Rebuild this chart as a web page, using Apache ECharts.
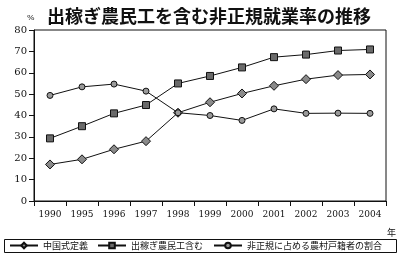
<!DOCTYPE html>
<html><head><meta charset="utf-8">
<script src="https://cdn.jsdelivr.net/npm/echarts@6/dist/echarts.min.js"></script>
<style>html,body{margin:0;padding:0;background:#fff}#c{width:400px;height:259px}</style>
</head><body><div id="c"></div>
<script>
const years = ['1990','1995','1996','1997','1998','1999','2000','2001','2002','2003','2004'];
const chinaDef = [17.1, 19.5, 24.2, 28.0, 41.3, 46.2, 50.3, 53.9, 57.0, 58.9, 59.2];
const withMigrants = [29.3, 35.0, 41.0, 44.9, 55.0, 58.5, 62.5, 67.3, 68.5, 70.4, 70.9];
const ruralShare = [49.4, 53.4, 54.7, 51.4, 41.3, 40.0, 37.7, 43.1, 41.0, 41.1, 41.0];
const yTicks = [0, 10, 20, 30, 40, 50, 60, 70, 80];
const names = ['中国式定義', '出稼ぎ農民工含む', '非正規に占める農村戸籍者の割合'];

const serif = "'DejaVu Serif', 'Liberation Serif', serif";
const jp = "'Noto Sans CJK JP', sans-serif";
const chart = echarts.init(document.getElementById('c'), null, {renderer: 'canvas'});
function mk(name, data, sym, size, fill) {
  return {
    name: name, type: 'line', data: data, symbol: sym, symbolSize: size,
    showAllSymbol: true,
    lineStyle: {color: '#111', width: 1},
    itemStyle: {color: fill, borderColor: '#111', borderWidth: 1},
    emphasis: {disabled: true}
  };
}
function lg(name, left) {
  return {
    left: left, top: 241, data: [name],
    itemWidth: 28, itemHeight: 7, padding: 0, itemGap: 0,
    textStyle: {fontFamily: jp, fontSize: 9, color: '#111'}
  };
}
chart.setOption({
  animation: false,
  backgroundColor: '#fff',
  title: {
    text: '出稼ぎ農民工を含む非正規就業率の推移',
    left: 42, top: 2,
    textStyle: {fontFamily: jp, fontSize: 18, fontWeight: 'bold', color: '#111'}
  },
  graphic: [
    {type: 'text', left: 27, top: 14, style: {text: '%', font: '8px ' + serif, fill: '#111'}},
    {type: 'text', left: 387, top: 228, style: {text: '年', font: '9px ' + jp, fill: '#111'}},
    {type: 'rect', z: 100, shape: {x: 4.5, y: 239.5, width: 392, height: 13}, style: {fill: 'none', stroke: '#111', lineWidth: 1}}
  ],
  legend: [lg(names[0], 9), lg(names[1], 97), lg(names[2], 213)],
  grid: {left: 34, right: 14, top: 30, bottom: 58, show: true, borderColor: '#111', borderWidth: 1, containLabel: false},
  xAxis: {
    type: 'category', data: years, boundaryGap: true,
    axisLine: {lineStyle: {color: '#111', width: 1}},
    axisTick: {show: true, length: 5, lineStyle: {color: '#111'}},
    axisLabel: {fontFamily: serif, fontSize: 9, color: '#111', margin: 9, interval: 0}
  },
  yAxis: {
    type: 'value', min: 0, max: 80, interval: 10,
    axisLine: {show: true, lineStyle: {color: '#111', width: 1}},
    axisTick: {show: true, length: 5, lineStyle: {color: '#111'}},
    splitLine: {show: false},
    axisLabel: {fontFamily: serif, fontSize: 10, color: '#111', margin: 7,
      formatter: v => yTicks.includes(v) ? String(v) : ''}
  },
  series: [
    mk(names[0], chinaDef, 'diamond', 9, '#8a8a8a'),
    mk(names[1], withMigrants, 'rect', 7, '#6a6a6a'),
    mk(names[2], ruralShare, 'circle', 6, '#9a9a9a')
  ]
});
</script></body></html>
